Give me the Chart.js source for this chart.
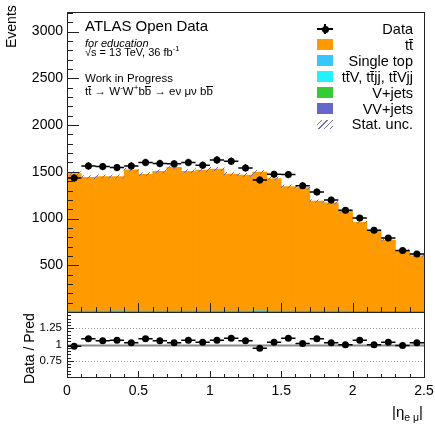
<!DOCTYPE html>
<html>
<head>
<meta charset="utf-8">
<script src="https://cdn.jsdelivr.net/npm/chart.js@4.4.1/dist/chart.umd.min.js"></script>
<style>
    html, body { margin: 0; padding: 0; background: #fff; }
    #wrap { position: relative; width: 435px; height: 428px; overflow: hidden;
            font-family: 'Liberation Sans', Arial, sans-serif; color: #000; }
    canvas { position: absolute; left: 0; }
    #mainC  { top: 0; }
    #ratioC { top: 300px; }
    .txt { position: absolute; white-space: nowrap; line-height: 1; }
    .ob  { display: inline-block; border-top: 1px solid #000; line-height: 0.8; }
    sup, sub { font-size: 70%; line-height: 0; }
    .lg-row { position: absolute; left: 300px; width: 113px; height: 16px; line-height: 16px;
              text-align: right; font-size: 14.5px; white-space: nowrap; }
    .lg-sw  { position: absolute; left: 17px; top: 2.5px; width: 16px; height: 11px; }
    .lg-data { position: absolute; left: 17px; top: 0; width: 16px; height: 16px; }
    .lg-data::before { content: ''; position: absolute; left: 0; top: 7px; width: 16px; height: 1.5px; background: #000; }
    .lg-data::after  { content: ''; position: absolute; left: 7.25px; top: 3px; width: 1.5px; height: 10px; background: #000; }
    .lg-data span { position: absolute; left: 4.5px; top: 4.5px; width: 7px; height: 7px; border-radius: 50%; background: #000; }
    .lg-hatch { background: repeating-linear-gradient(135deg, transparent 0 3px, #7070a8 3px 4px); height: 9px; top: 4px; }
</style>
</head>
<body>
<div id="wrap">
    <canvas id="mainC" width="435" height="316"></canvas>
    <canvas id="ratioC" width="435" height="128"></canvas>

    <div class="txt" style="left:85px;top:18px;font-size:15px;">ATLAS Open Data</div>
    <div class="txt" style="left:85px;top:38px;font-size:11px;font-style:italic;">for education</div>
    <div class="txt" style="left:85px;top:47px;font-size:11px;">√s = 13 TeV, 36 fb<sup>-1</sup></div>
    <div class="txt" style="left:85px;top:73px;font-size:11.5px;">Work in Progress</div>
    <div class="txt" style="left:85px;top:86px;font-size:11.5px;">t<span class="ob">t</span> → W<sup>-</sup>W<sup>+</sup>b<span class="ob">b</span> → eν μν b<span class="ob">b</span></div>

    <div id="legend"></div>

    <div class="txt" style="left:4px;top:4px;font-size:14px;transform-origin:0 0;transform:translate(0,44px) rotate(-90deg);">Events</div>
    <div class="txt" style="left:22px;top:346px;font-size:14px;transform-origin:0 0;transform:translate(0,38px) rotate(-90deg);">Data / Pred</div>
    <div class="txt" style="right:12px;top:404px;font-size:15px;">|η<sub>e μ</sub>|</div>
</div>

<script>
/* ── Data ──────────────────────────────────────────────── */
const BIN_CENTERS = [0.05, 0.15, 0.25, 0.35, 0.45, 0.55, 0.65, 0.75, 0.85, 0.95,
                     1.05, 1.15, 1.25, 1.35, 1.45, 1.55, 1.65, 1.75, 1.85, 1.95,
                     2.05, 2.15, 2.25, 2.35, 2.45];

const DATA       = [1435, 1563, 1556, 1545, 1563, 1599, 1588, 1585, 1599, 1570,
                    1627, 1613, 1542, 1413, 1474, 1470, 1352, 1285, 1199, 1089,
                    1006, 874, 792, 657, 621];
const DATA_ERR   = [38, 40, 39, 39, 40, 40, 40, 40, 40, 40,
                    40, 40, 39, 38, 38, 38, 37, 36, 35, 33,
                    32, 30, 28, 26, 25];

const TTBAR      = [1472, 1432, 1440, 1438, 1512, 1464, 1495, 1537, 1495, 1508,
                    1520, 1465, 1455, 1485, 1418, 1333, 1322, 1177, 1158, 1072,
                    952, 861, 763, 649, 597];
const SINGLE_TOP = [4, 4, 4, 4, 4, 4, 4, 4, 4, 4, 4, 4, 4, 4, 4, 4, 3, 3, 3, 3, 3, 3, 2, 2, 2];
const TTV        = [2, 2, 2, 2, 2, 2, 2, 2, 2, 2, 2, 2, 2, 2, 2, 2, 2, 2, 2, 2, 1, 1, 1, 1, 1];
const VJETS      = [3, 3, 3, 5, 3, 3, 3, 3, 3, 3, 3, 3, 3, 6, 3, 3, 3, 3, 3, 3, 3, 3, 3, 3, 2];
const VV         = [1, 1, 1, 1, 1, 1, 1, 1, 1, 1, 1, 1, 1, 1, 1, 1, 1, 1, 1, 1, 1, 1, 1, 1, 1];
const MC_UNC     = [18, 17, 17, 17, 18, 18, 18, 18, 18, 18, 18, 18, 18, 18, 17, 16, 16, 15, 15, 14,
                    13, 12, 11, 10, 9];

const RATIO      = [0.975, 1.087, 1.056, 1.066, 1.026, 1.087, 1.056, 1.026, 1.066, 1.036,
                    1.066, 1.097, 1.056, 0.944, 1.036, 1.097, 1.015, 1.087, 1.026, 0.995,
                    1.066, 0.995, 1.036, 0.985, 1.026];
const RATIO_ERR  = [0.026, 0.025, 0.025, 0.025, 0.025, 0.025, 0.025, 0.025, 0.025, 0.025,
                    0.025, 0.025, 0.025, 0.027, 0.026, 0.026, 0.027, 0.028, 0.029, 0.030,
                    0.032, 0.034, 0.035, 0.039, 0.040];

const Y_TICKS     = [500, 1000, 1500, 2000, 2500, 3000];
const RATIO_TICKS = [0.75, 1, 1.25];

const LEGEND_LABELS = ['Data', 't<span class="ob">t</span>', 'Single top',
    't<span class="ob">t</span>V, t<span class="ob">t</span>jj, t<span class="ob">t</span>Vjj',
    'V+jets', 'VV+jets', 'Stat. unc.'];

/* ── Colours ───────────────────────────────────────────── */
const ORANGE = '#ff9a00';
const SKY    = '#35c8ff';
const CYAN   = '#22f2ff';
const GREEN  = '#33cc33';
const PURPLE = '#6666cc';
const HATCH  = '#7070a8';
const LEGEND_SWATCHES = [null, ORANGE, SKY, CYAN, GREEN, PURPLE, 'hatch'];

/* ── Helpers ───────────────────────────────────────────── */
const pts = arr => BIN_CENTERS.map((x, i) => ({ x, y: arr[i] }));

function hatchPattern(color) {
    const c = document.createElement('canvas');
    c.width = 7; c.height = 7;
    const g = c.getContext('2d');
    g.strokeStyle = color;
    g.lineWidth = 1;
    g.beginPath();
    g.moveTo(0, 7); g.lineTo(7, 0);
    g.moveTo(-1, 1); g.lineTo(1, -1);
    g.moveTo(6, 8); g.lineTo(8, 6);
    g.stroke();
    return g.createPattern(c, 'repeat');
}

/* frame + inward ticks, ROOT style */
const framePlugin = {
    id: 'frame',
    beforeDatasetsDraw(chart, args, o) {
        if (!o.refLines) return;
        const { ctx, chartArea: a } = chart;
        const y = chart.scales.y;
        ctx.save();
        o.refLines.forEach(r => {
            const py = Math.round(y.getPixelForValue(r.v)) + 0.5;
            ctx.strokeStyle = r.color;
            ctx.lineWidth = r.width;
            ctx.setLineDash(r.dash || []);
            ctx.beginPath(); ctx.moveTo(a.left, py); ctx.lineTo(a.right, py); ctx.stroke();
        });
        ctx.restore();
    },
    afterDraw(chart, args, o) {
        const { ctx, chartArea: a } = chart;
        const x = chart.scales.x, y = chart.scales.y;
        ctx.save();
        ctx.strokeStyle = '#222';
        ctx.lineWidth = 1;
        ctx.beginPath();
        const ny = Math.round((o.yMax - o.yMin) / o.yStep);
        const every = Math.round(o.yMajor / o.yStep);
        for (let i = 0; i <= ny; i++) {
            const v = o.yMin + i * o.yStep;
            const py = Math.round(y.getPixelForValue(v)) + 0.5;
            const len = i % every === 0 ? o.yMajorLen : o.yMinorLen;
            ctx.moveTo(a.left, py); ctx.lineTo(a.left + len, py);
        }
        const nx = Math.round((o.xMax - o.xMin) / o.xStep);
        for (let i = 0; i <= nx; i++) {
            const v = o.xMin + i * o.xStep;
            const px = Math.round(x.getPixelForValue(v)) + 0.5;
            const len = i % o.xMajorEvery === 0 ? o.xMajorLen : o.xMinorLen;
            ctx.moveTo(px, a.bottom); ctx.lineTo(px, a.bottom - len);
        }
        ctx.stroke();
        ctx.strokeRect(Math.round(a.left) + 0.5, Math.round(a.top) + 0.5,
                       Math.round(a.right - a.left), Math.round(a.bottom - a.top));
        ctx.restore();
    }
};

/* data error bars: full bin width horizontally, errors vertically */
const errorBars = {
    id: 'errorBars',
    afterDatasetsDraw(chart, args, o) {
        const { ctx } = chart;
        const xs = chart.scales.x, ys = chart.scales[o.yId];
        ctx.save();
        ctx.strokeStyle = '#000';
        ctx.lineWidth = 1.5;
        ctx.beginPath();
        o.xs.forEach((xc, i) => {
            const px = xs.getPixelForValue(xc);
            const py = ys.getPixelForValue(o.ys[i]);
            ctx.moveTo(xs.getPixelForValue(xc - o.half), py);
            ctx.lineTo(xs.getPixelForValue(xc + o.half), py);
            ctx.moveTo(px, ys.getPixelForValue(o.ys[i] - o.errs[i]));
            ctx.lineTo(px, ys.getPixelForValue(o.ys[i] + o.errs[i]));
        });
        ctx.stroke();
        ctx.restore();
    }
};

const FONT = "'Liberation Sans', Arial, sans-serif";

// keep the chart area where the layout padding puts it
const fixWidth  = s => { s.width = 67; s.paddingTop = 0; s.paddingBottom = 0; };
const fixHeight = h => s => { s.height = h; s.paddingLeft = 0; s.paddingRight = 0; };

/* ── Main panel ────────────────────────────────────────── */
const band = BIN_CENTERS.map((x, i) => {
    const tot = TTBAR[i] + SINGLE_TOP[i] + TTV[i] + VJETS[i] + VV[i];
    return { x, y: [tot - MC_UNC[i], tot + MC_UNC[i]] };
});

new Chart(document.getElementById('mainC'), {
    type: 'bar',
    data: {
        datasets: [
            { type: 'line', label: 'Data', data: pts(DATA), yAxisID: 'yb', showLine: false,
              pointRadius: 3.5, pointBackgroundColor: '#000', pointBorderWidth: 0, order: 0 },
            { label: 'Stat. unc.', data: band, yAxisID: 'yb', backgroundColor: hatchPattern(HATCH),
              grouped: false, order: 1 },
            { label: 'VV+jets',    data: pts(VV),         backgroundColor: PURPLE, order: 2 },
            { label: 'V+jets',     data: pts(VJETS),      backgroundColor: GREEN,  order: 2 },
            { label: 'ttV',        data: pts(TTV),        backgroundColor: CYAN,   order: 2 },
            { label: 'Single top', data: pts(SINGLE_TOP), backgroundColor: SKY,    order: 2 },
            { label: 'ttbar',      data: pts(TTBAR),      backgroundColor: ORANGE, order: 2 },
        ]
    },
    options: {
        responsive: false,
        animation: false,
        events: [],
        layout: { padding: { left: 0, right: 11, top: 12, bottom: 2 } },
        datasets: { bar: { barPercentage: 1, categoryPercentage: 1, borderWidth: 0 } },
        plugins: {
            legend: { display: false },
            tooltip: { enabled: false },
            frame: { yMin: 0, yMax: 3200, yStep: 100, yMajor: 500, yMajorLen: 12, yMinorLen: 6,
                     xMin: 0, xMax: 2.5, xStep: 0.1, xMajorEvery: 5, xMajorLen: 9, xMinorLen: 5 },
            errorBars: { xs: BIN_CENTERS, ys: DATA, errs: DATA_ERR, half: 0.05, yId: 'yb' }
        },
        scales: {
            x: { type: 'linear', min: 0, max: 2.5, offset: false, stacked: true, display: false },
            y: {
                min: 0, max: 3210, stacked: true,
                grid: { display: false, drawTicks: false },
                border: { display: false },
                afterBuildTicks: s => { s.ticks = Y_TICKS.map(v => ({ value: v })); },
                ticks: { padding: 4, color: '#000', font: { family: FONT, size: 14 },
                         callback: v => String(v) },
                afterFit: fixWidth
            },
            yb: { min: 0, max: 3210, display: false, stacked: false }
        }
    },
    plugins: [framePlugin, errorBars]
});

/* ── Ratio panel ───────────────────────────────────────── */
new Chart(document.getElementById('ratioC'), {
    type: 'scatter',
    data: {
        datasets: [
            { label: 'Data / Pred', data: pts(RATIO), pointRadius: 3.5,
              pointBackgroundColor: '#000', pointBorderWidth: 0 }
        ]
    },
    options: {
        responsive: false,
        animation: false,
        events: [],
        layout: { padding: { left: 0, right: 11, top: 12, bottom: 0 } },
        plugins: {
            legend: { display: false },
            tooltip: { enabled: false },
            frame: { yMin: 0.5, yMax: 1.5, yStep: 0.05, yMajor: 0.25, yMajorLen: 7, yMinorLen: 4,
                     xMin: 0, xMax: 2.5, xStep: 0.1, xMajorEvery: 5, xMajorLen: 6, xMinorLen: 3,
                     refLines: [
                         { v: 1,    color: '#8a8a8a', width: 2 },
                         { v: 1.25, color: '#9a9a9a', width: 1, dash: [1, 2] },
                         { v: 0.75, color: '#9a9a9a', width: 1, dash: [1, 2] }
                     ] },
            errorBars: { xs: BIN_CENTERS, ys: RATIO, errs: RATIO_ERR, half: 0.05, yId: 'y' }
        },
        scales: {
            x: {
                type: 'linear', min: 0, max: 2.5,
                grid: { display: false, drawTicks: false },
                border: { display: false },
                ticks: { stepSize: 0.5, padding: 6, autoSkip: false, maxRotation: 0, color: '#000',
                         font: { family: FONT, size: 14 }, callback: v => String(+v.toFixed(2)) },
                afterFit: fixHeight(51)
            },
            y: {
                min: 0.5, max: 1.5,
                grid: { display: false, drawTicks: false },
                border: { display: false },
                afterBuildTicks: s => { s.ticks = RATIO_TICKS.map(v => ({ value: v })); },
                ticks: { padding: 5, color: '#000', font: { family: FONT, size: 11.5 },
                         callback: v => String(v) },
                afterFit: fixWidth
            }
        }
    },
    plugins: [framePlugin, errorBars]
});

/* ── Legend ────────────────────────────────────────────── */
const legend = document.getElementById('legend');
legend.innerHTML = LEGEND_LABELS.map((lab, i) => {
    const sw = LEGEND_SWATCHES[i];
    let marker;
    if (sw === null)         marker = '<div class="lg-data"><span></span></div>';
    else if (sw === 'hatch') marker = '<div class="lg-sw lg-hatch"></div>';
    else                     marker = `<div class="lg-sw" style="background:${sw}"></div>`;
    return `<div class="lg-row" style="top:${(21 + i * 15.9).toFixed(1)}px">${marker}${lab}</div>`;
}).join('');
</script>
</body>
</html>
